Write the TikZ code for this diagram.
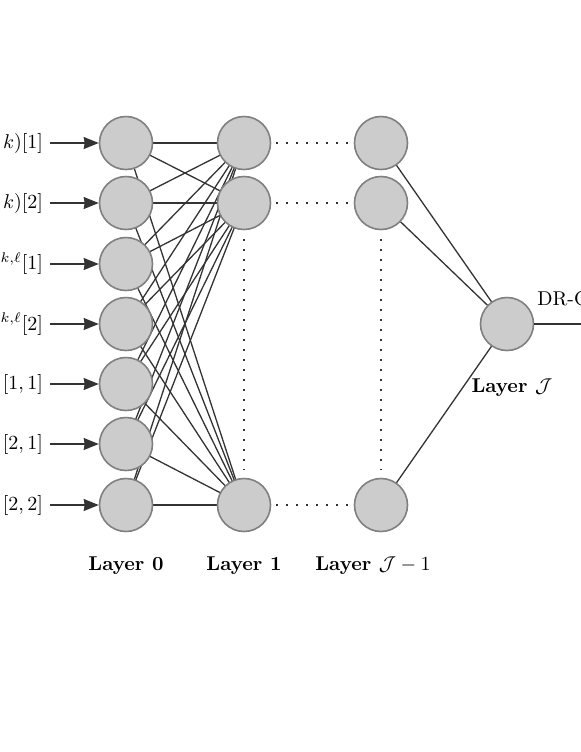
\documentclass[tikz,border=0pt]{standalone}
\usepackage{amsmath}
\usepackage{amssymb}
\usepackage{xcolor}
\usetikzlibrary{arrows.meta,backgrounds}

\definecolor{nodefill}{RGB}{204,204,204}
\definecolor{nodeline}{RGB}{128,128,128}
\definecolor{edgecol}{RGB}{51,51,51}

\begin{document}
\begin{tikzpicture}[x=0.5pt,y=-0.5pt,
    neuron/.style={circle,fill=nodefill,draw=nodeline,line width=0.8pt,
                   minimum size=26.5pt,inner sep=0pt},
    edge/.style={draw=edgecol,line width=0.65pt},
    gap/.style={draw=edgecol,line width=0.7pt,dash pattern=on 1pt off 4pt},
    feed/.style={edge,-{Stealth[length=7.5pt,width=6pt,inset=0.5pt]}},
    layer/.style={font=\bfseries}]
\useasboundingbox (0,0) rectangle (581,752);
% layer 0 and its inputs
\foreach \i/\y/\txt in {0/143/{$k)[1]$},1/203/{$k)[2]$},
                         2/264/{${}^{k,\ell}[1]$},3/324/{${}^{k,\ell}[2]$},
                         4/384/{$[1,1]$},5/444/{$[2,1]$},6/505/{$[2,2]$}}
{
  \node[neuron] (l0\i) at (126,\y) {};
  \node[anchor=east] (in\i) at (50,\y) {\txt};
  \draw[feed] (in\i.east) -- (l0\i);
}
% layer 1 and layer J-1
\node[neuron] (l1a) at (244,143) {};
\node[neuron] (l1b) at (244,203) {};
\node[neuron] (l1n) at (244,505) {};
\node[neuron] (lJa) at (381,143) {};
\node[neuron] (lJb) at (381,203) {};
\node[neuron] (lJn) at (381,505) {};
% layer J
\node[neuron] (out) at (507,324) {};
\coordinate (drc) at (581,324);
% connections, kept under the circles
\begin{pgfonlayer}{background}
\foreach \i in {0,...,6}
  \foreach \j in {a,b,n}
    \draw[edge] (l0\i.center) -- (l1\j.center);
\foreach \j in {a,b,n}
  \draw[edge] (lJ\j.center) -- (out.center);
\end{pgfonlayer}
\foreach \j in {a,b,n}
  \draw[gap,shorten <=2.5pt,shorten >=3pt] (l1\j) -- (lJ\j);
\draw[gap,shorten <=4.5pt,shorten >=4pt] (l1b) -- (l1n);
\draw[gap,shorten <=4.5pt,shorten >=4pt] (lJb) -- (lJn);
\draw[edge] (out) -- (drc);
\node[anchor=base west,inner sep=0pt] (drlab) at (537,305) {DR-C};
% layer names
\node[layer] (name0) at (126,566) {Layer 0};
\node[layer] (name1) at (244,566) {Layer 1};
\node[layer] (nameJm) at (373,566) {Layer $\mathcal{J}-1$};
\node[layer] (nameJ) at (512,388) {Layer $\mathcal{J}$};
\end{tikzpicture}
\end{document}
